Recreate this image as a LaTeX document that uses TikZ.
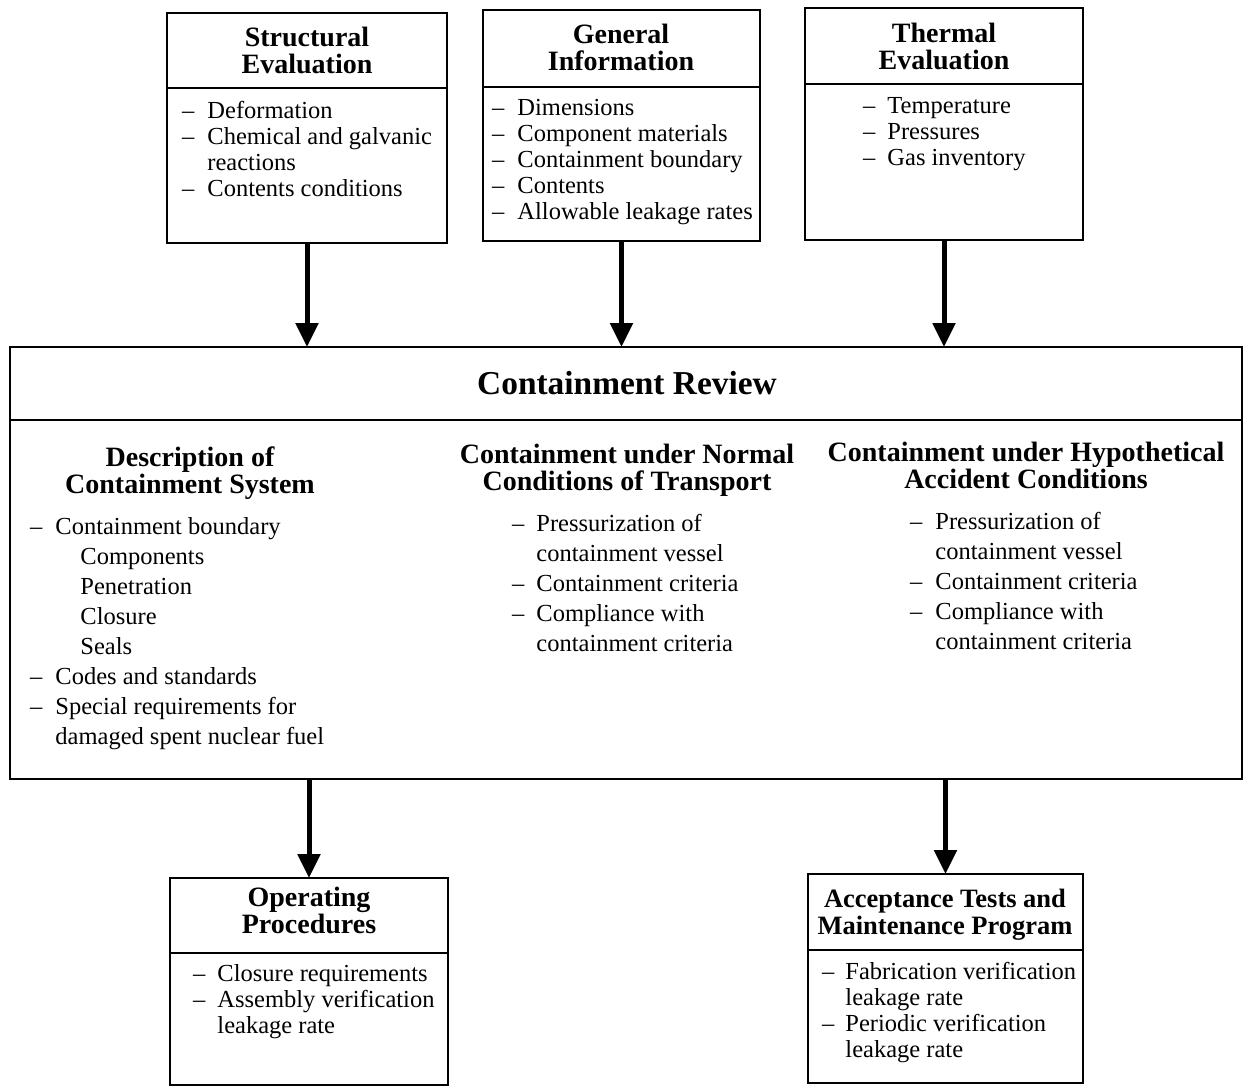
\documentclass[tikz,border=0pt]{standalone}
\usepackage{fontspec}
\setmainfont{Liberation Serif}
\usetikzlibrary{arrows.meta}
\begin{document}
\begin{tikzpicture}[x=1pt,y=-1pt,
  frame/.style={draw, line width=2.4pt, outer sep=0pt, inner sep=0pt, anchor=north west},
  rule/.style={line width=2.2pt},
  flow/.style={line width=5pt, -{Triangle[length=24pt,width=22pt]}},
  head/.style={inner sep=0pt, anchor=base, font=\fontsize{28}{27.5}\selectfont\bfseries},
  body/.style={inner sep=0pt, anchor=base west, font=\fontsize{24.5}{26}\selectfont},
  wide/.style={inner sep=0pt, anchor=base west, font=\fontsize{24.5}{30}\selectfont}]
\useasboundingbox (0,0) rectangle (1244,1087);

% ---- input boxes ----
\node[frame, minimum width=280pt, minimum height=230pt] (sbox) at (167,13) {};
\draw[rule] (167,88) -- (447,88);
\node[head] (shead) at (307,46) {\begin{tabular}[t]{@{}c@{}}Structural\\Evaluation\end{tabular}};
\node[body] (slist) at (182,118) {\begin{tabular}[t]{@{}l@{\hspace{13pt}}l@{}}–&Deformation\\–&Chemical and galvanic\\&reactions\\–&Contents conditions\end{tabular}};

\node[frame, minimum width=277pt, minimum height=231pt] (gbox) at (483,10) {};
\draw[rule] (483,87) -- (760,87);
\node[head] (ghead) at (621,43) {\begin{tabular}[t]{@{}c@{}}General\\Information\end{tabular}};
\node[body] (glist) at (492,115) {\begin{tabular}[t]{@{}l@{\hspace{13pt}}l@{}}–&Dimensions\\–&Component materials\\–&Containment boundary\\–&Contents\\–&Allowable leakage rates\end{tabular}};

\node[frame, minimum width=278pt, minimum height=232pt] (tbox) at (805,8) {};
\draw[rule] (805,84) -- (1083,84);
\node[head] (thead) at (944,42) {\begin{tabular}[t]{@{}c@{}}Thermal\\Evaluation\end{tabular}};
\node[body] (tlist) at (863,113) {\begin{tabular}[t]{@{}l@{\hspace{12pt}}l@{}}–&Temperature\\–&Pressures\\–&Gas inventory\end{tabular}};

% ---- review box ----
\node[frame, minimum width=1232pt, minimum height=432pt] (rbox) at (10,347) {};
\draw[rule] (10,420) -- (1242,420);
\node[inner sep=0pt, anchor=base, font=\fontsize{33.4}{36}\selectfont\bfseries] (rhead) at (627,394) {Containment Review};

\node[head] (dhead) at (190,466) {\begin{tabular}[t]{@{}c@{}}Description of\\Containment System\end{tabular}};
\node[wide] (dlist) at (30,534) {\begin{tabular}[t]{@{}l@{\hspace{13pt}}l@{}}–&Containment boundary\\&\hspace{25pt}Components\\&\hspace{25pt}Penetration\\&\hspace{25pt}Closure\\&\hspace{25pt}Seals\\–&Codes and standards\\–&Special requirements for\\&damaged spent nuclear fuel\end{tabular}};

\node[head] (nhead) at (627,463) {\begin{tabular}[t]{@{}c@{}}Containment under Normal\\Conditions of Transport\end{tabular}};
\node[wide] (nlist) at (512,531) {\begin{tabular}[t]{@{}l@{\hspace{12pt}}l@{}}–&Pressurization of\\&containment vessel\\–&Containment criteria\\–&Compliance with\\&containment criteria\end{tabular}};

\node[head] (hhead) at (1026,461) {\begin{tabular}[t]{@{}c@{}}Containment under Hypothetical\\Accident Conditions\end{tabular}};
\node[wide] (hlist) at (910,529) {\begin{tabular}[t]{@{}l@{\hspace{13pt}}l@{}}–&Pressurization of\\&containment vessel\\–&Containment criteria\\–&Compliance with\\&containment criteria\end{tabular}};

% ---- output boxes ----
\node[frame, minimum width=278pt, minimum height=207pt] (obox) at (170,878) {};
\draw[rule] (170,953) -- (448,953);
\node[head] (ohead) at (309,906) {\begin{tabular}[t]{@{}c@{}}Operating\\Procedures\end{tabular}};
\node[body] (olist) at (193,981) {\begin{tabular}[t]{@{}l@{\hspace{12pt}}l@{}}–&Closure requirements\\–&Assembly verification\\&leakage rate\end{tabular}};

\node[frame, minimum width=275pt, minimum height=209pt] (abox) at (808,874) {};
\draw[rule] (808,950) -- (1083,950);
\node[head, font=\fontsize{26.5}{27}\selectfont\bfseries] (ahead) at (945,907) {\begin{tabular}[t]{@{}c@{}}Acceptance Tests and\\Maintenance Program\end{tabular}};
\node[body] (alist) at (822,979) {\begin{tabular}[t]{@{}l@{\hspace{11pt}}l@{}}–&Fabrication verification\\&leakage rate\\–&Periodic verification\\&leakage rate\end{tabular}};

% ---- connectors ----
\draw[flow] (sbox.south) -- (sbox.south |- rbox.north);
\draw[flow] (gbox.south) -- (gbox.south |- rbox.north);
\draw[flow] (tbox.south) -- (tbox.south |- rbox.north);
\draw[flow] (obox.north |- rbox.south) -- (obox.north);
\draw[flow] (abox.north |- rbox.south) -- (abox.north);
\end{tikzpicture}
\end{document}
